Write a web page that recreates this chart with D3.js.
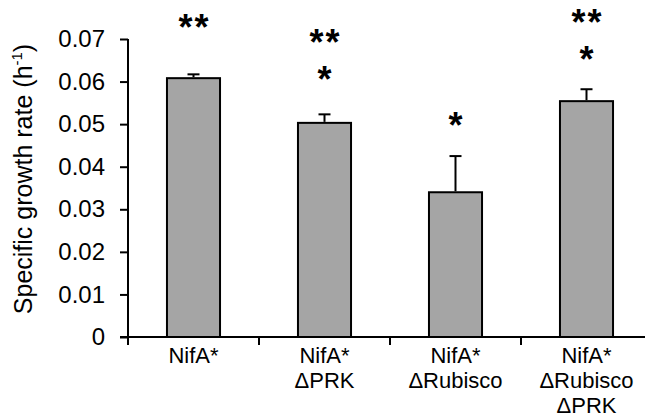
<!DOCTYPE html>
<html lang="en">
<head>
<meta charset="UTF-8">
<title>Specific growth rate</title>
<script src="https://d3js.org/d3.v7.min.js"></script>
<style>
  body { margin: 0; background: #fff; }
  svg { display: block; font-family: Arial, "Liberation Sans", sans-serif; }
  .axis path, .axis line { stroke: #000; stroke-width: 2px; }
  .axis text { fill: #000; }
</style>
</head>
<body>
<div id="chart"></div>
<script>
// Data
const strains = [["NifA*"], ["NifA*", "ΔPRK"], ["NifA*", "ΔRubisco"], ["NifA*", "ΔRubisco", "ΔPRK"]];
const rates = [0.0608, 0.0503, 0.0340, 0.0554];
const errors = [0.0009, 0.0020, 0.0085, 0.0028];
const stars = [["**"], ["**", "*"], ["*"], ["**", "*"]];
const yTicks = [0, 0.01, 0.02, 0.03, 0.04, 0.05, 0.06, 0.07];

const W = 645, H = 417;
const x0 = 128, y0 = 337;

const svg = d3.select("#chart").append("svg")
  .attr("width", W).attr("height", H);

const x = d3.scaleBand()
  .domain(d3.range(strains.length))
  .range([x0, x0 + 4 * 131])
  .paddingInner(0.595).paddingOuter(0.2975);

const y = d3.scaleLinear().domain([0, 0.07]).range([y0, 39]);

// bars
svg.selectAll(".bar").data(rates).enter().append("rect")
  .attr("class", "bar")
  .attr("x", (d, i) => x(i))
  .attr("y", d => y(d))
  .attr("width", x.bandwidth())
  .attr("height", d => y0 - y(d))
  .attr("fill", "#a5a5a5")
  .attr("stroke", "#000")
  .attr("stroke-width", 2);

// error bars (upper only)
const cx = i => x(i) + x.bandwidth() / 2;
svg.selectAll(".err").data(rates).enter().append("line")
  .attr("x1", (d, i) => cx(i)).attr("x2", (d, i) => cx(i))
  .attr("y1", d => y(d) - 1).attr("y2", (d, i) => y(d + errors[i]))
  .attr("stroke", "#000").attr("stroke-width", 2);
svg.selectAll(".cap").data(rates).enter().append("line")
  .attr("x1", (d, i) => cx(i) - 6).attr("x2", (d, i) => cx(i) + 6)
  .attr("y1", (d, i) => y(d + errors[i])).attr("y2", (d, i) => y(d + errors[i]))
  .attr("stroke", "#000").attr("stroke-width", 2);

// y axis
const yAxis = svg.append("g").attr("class", "axis")
  .attr("transform", `translate(${x0},0)`)
  .call(d3.axisLeft(y).tickValues(yTicks).tickSize(8).tickPadding(15)
    .tickFormat(d => d === 0 ? "0" : d3.format(".2f")(d)));
yAxis.select(".domain").attr("d", `M0,${y(0.07)}V${y0}`);
yAxis.selectAll("text").style("font-size", "24px");

// x axis
const xAxis = svg.append("g").attr("class", "axis")
  .attr("transform", `translate(0,${y0})`);
xAxis.append("line").attr("x1", x0 - 8).attr("x2", W + 10).attr("y1", 0).attr("y2", 0);
xAxis.selectAll(".xt").data(d3.range(strains.length)).enter().append("line")
  .attr("x1", i => x0 + i * 131).attr("x2", i => x0 + i * 131)
  .attr("y1", 0).attr("y2", 8);

const labels = svg.selectAll(".xl").data(strains).enter().append("text")
  .attr("text-anchor", "middle")
  .style("font-size", "22px");
labels.selectAll("tspan").data((d, i) => d.map(s => ({ s, i }))).enter().append("tspan")
  .attr("x", d => cx(d.i))
  .attr("y", (d, j) => 363 + j * 25)
  .text(d => d.s);

// significance asterisks (centre of the top line, px)
const starTop = [20, 35, 118, 15];
const starText = svg.selectAll(".star").data(stars).enter().append("text")
  .attr("text-anchor", "middle")
  .style("font-size", "36px")
  .style("font-weight", "bold")
  .style("letter-spacing", "2px");
starText.selectAll("tspan").data((d, i) => d.map(s => ({ s, i }))).enter().append("tspan")
  .attr("x", d => cx(d.i) + 1)
  .attr("y", (d, j) => starTop[d.i] + j * 37 + 20)
  .text(d => d.s);

// y axis title
svg.append("text")
  .attr("transform", `translate(32,${(51 + 307) / 2}) rotate(-90)`)
  .attr("text-anchor", "middle")
  .style("font-size", "25px")
  .html('Specific growth rate (h<tspan dy="-10" font-size="15px">-1</tspan><tspan dy="10">)</tspan>');
</script>
</body>
</html>
